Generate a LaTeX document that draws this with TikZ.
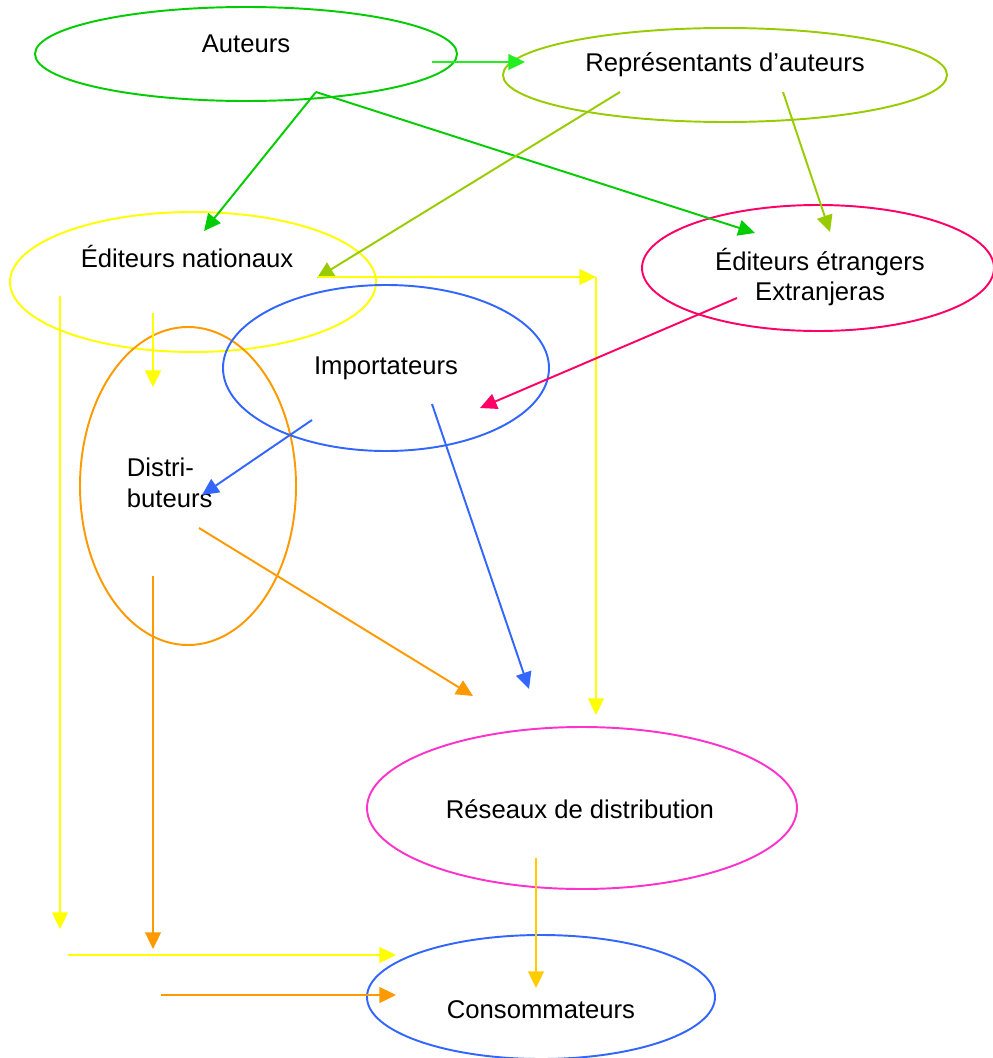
\documentclass[tikz,border=0pt]{standalone}
\usepackage{fontspec}
\setmainfont{Liberation Sans}
\usetikzlibrary{arrows.meta}
\definecolor{gruen}{HTML}{00CC00}
\definecolor{hellgruen}{HTML}{22EE22}
\definecolor{olivgruen}{HTML}{99CC00}
\definecolor{gelb}{HTML}{FFFF00}
\definecolor{karmin}{HTML}{FF0066}
\definecolor{blau}{HTML}{3366FF}
\definecolor{orange}{HTML}{FF9900}
\definecolor{rosa}{HTML}{FF33CC}
\definecolor{gold}{HTML}{FFCC00}
\tikzset{
  beschr/.style={inner sep=0pt},
  pfeil/.style={->}
}

\begin{document}
\begin{tikzpicture}[x=0.02cm,y=-0.02cm,line width=1.1pt,>={Triangle[length=9.5pt,width=9pt]},
  font=\fontsize{14.6}{17.3}\selectfont]
\useasboundingbox (0,0) rectangle (992,1058);
% Ellipsen
\draw[gruen] (246,54) ellipse (211 and 47);
\draw[olivgruen] (725,75) ellipse (222 and 47);
\draw[gelb] (193,282) ellipse (183 and 70);
\draw[karmin] (818,268) ellipse (176 and 63);
\draw[orange] (188,486) ellipse (108 and 159);
\draw[blau] (386,368) ellipse (163 and 83);
\draw[rosa] (582,808) ellipse (215 and 81);
\draw[blau] (541,997) ellipse (174 and 62);
% Texte
\node[beschr] (aut) at (246,44) {Auteurs};
\node[beschr] (rep) at (725,65) {Représentants d’auteurs};
\node[beschr] (ednat) at (187,257) {Éditeurs nationaux};
\node[beschr,align=center] (edetr) at (820,277) {Éditeurs étrangers\\Extranjeras};
\node[beschr] (imp) at (386,368) {Importateurs};
\node[beschr,align=left,anchor=west] (dist) at (126,483) {Distri-\\buteurs};
\node[beschr] (res) at (580,809) {Réseaux de distribution};
\node[beschr] (cons) at (541,1010) {Consommateurs};
% Anfangs- und Endpunkte
\coordinate (a1) at (432,62);   \coordinate (a2) at (525,62);
\coordinate (a0) at (316,92);
\coordinate (a3) at (204,231);  \coordinate (a4) at (755,233);
\coordinate (r1) at (620,92);   \coordinate (r2) at (317,278);
\coordinate (r3) at (783,92);   \coordinate (r4) at (830,232);
\coordinate (n1) at (318,277);  \coordinate (n2) at (596,277);
\coordinate (n3) at (596,715);
\coordinate (n4) at (60,296);   \coordinate (n5) at (60,929);
\coordinate (n6) at (153,313);  \coordinate (n7) at (153,387);
\coordinate (e1) at (737,298);  \coordinate (e2) at (480,408);
\coordinate (i1) at (312,420);  \coordinate (i2) at (202,495);
\coordinate (i3) at (432,404);  \coordinate (i4) at (529,689);
\coordinate (d1) at (199,528);  \coordinate (d2) at (473,696);
\coordinate (d3) at (153,576);  \coordinate (d4) at (153,949);
\coordinate (k1) at (68,955);   \coordinate (k2) at (396,955);
\coordinate (k3) at (161,995);  \coordinate (k4) at (396,995);
\coordinate (s1) at (536,858);  \coordinate (s2) at (536,988);
% Pfeile
\draw[pfeil,hellgruen] (a1) -- (a2);
\draw[pfeil,gruen] (a0) -- (a3);
\draw[pfeil,gruen] (a0) -- (a4);
\draw[pfeil,olivgruen] (r1) -- (r2);
\draw[pfeil,olivgruen] (r3) -- (r4);
\draw[pfeil,gelb] (n1) -- (n2);
\draw[pfeil,gelb] (n2) -- (n3);
\draw[pfeil,gelb] (n4) -- (n5);
\draw[pfeil,gelb] (n6) -- (n7);
\draw[pfeil,karmin] (e1) -- (e2);
\draw[pfeil,blau] (i1) -- (i2);
\draw[pfeil,blau] (i3) -- (i4);
\draw[pfeil,orange] (d1) -- (d2);
\draw[pfeil,orange] (d3) -- (d4);
\draw[pfeil,gelb] (k1) -- (k2);
\draw[pfeil,orange] (k3) -- (k4);
\draw[pfeil,gold] (s1) -- (s2);
\end{tikzpicture}
\end{document}
